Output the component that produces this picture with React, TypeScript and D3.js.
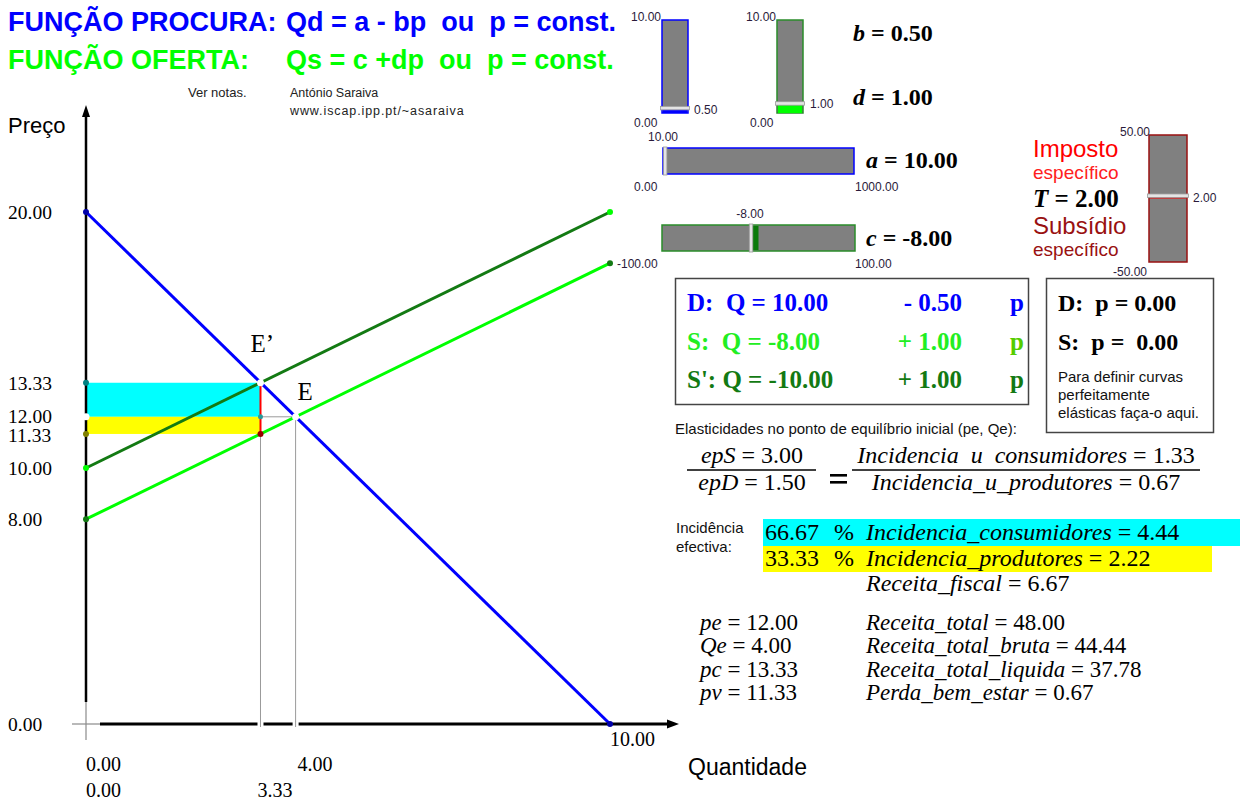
import React from "react";
import * as d3 from "d3";

// Demand / supply curves as (quantity, price) end points
const demandCurve = [{ q: 0, p: 20 }, { q: 10, p: 0 }];
const supplyCurve = [{ q: 0, p: 8 }, { q: 10, p: 18 }];
const taxedSupplyCurve = [{ q: 0, p: 10 }, { q: 10, p: 20 }];

// Axis labels
const priceTicks = [20, 13.33, 12, 11.33, 10, 8, 0];
const quantityRowInitial = [0, 4];
const quantityRowTaxed = [0, 3.33];
const quantityEnd = [10];

// Equilibria before and after the tax
const initialEquilibrium = { q: 4, p: 12 };
const taxedEquilibrium = { q: 3.33, pc: 13.33, pv: 11.33 };

// Slider parameters
const paramNames = ["b", "d", "a", "c", "T"];
const paramValues = [0.5, 1, 10, -8, 2];
const paramMin = [0, 0, 0, -100, -50];
const paramMax = [10, 10, 1000, 100, 50];

// Linear equations box
const eqLabels = ["D:  Q = ", "S:  Q = ", "S': Q = "];
const eqIntercepts = [10, -8, -10];
const eqSlopes = ["- 0.50", "+ 1.00", "+ 1.00"];

// Perfectly elastic curves
const elasticLabels = ["D:  p = ", "S:  p =  "];
const elasticValues = [0, 0];

// Elasticities and unit incidence
const epS = 3.0;
const epD = 1.5;
const unitIncidenceConsumers = 1.33;
const unitIncidenceProducers = 0.67;

// Effective incidence
const incidenceShares = [66.67, 33.33];
const incidenceNames = ["Incidencia_consumidores", "Incidencia_produtores"];
const incidenceValues = [4.44, 2.22];
const fiscalRevenue = 6.67;

// Summary values
const priceStatNames = ["pe", "Qe", "pc", "pv"];
const priceStatValues = [12, 4, 13.33, 11.33];
const revenueNames = ["Receita_total", "Receita_total_bruta", "Receita_total_liquida", "Perda_bem_estar"];
const revenueValues = [48, 44.44, 37.78, 0.67];

const SERIF = "'Liberation Serif', 'Times New Roman', serif";
const SANS = "'Liberation Sans', Arial, sans-serif";
const f2 = (v: number) => v.toFixed(2);

const BLUE = "#0000ff";
const GREEN = "#00ff00";
const DARK_GREEN = "#137a13";
const SLIDER_GREEN = "#2a8c2a";
const DARK_RED = "#991111";
const GREY = "#808080";

type Pt = { q: number; p: number };

function VSlider({ x, y, w, h, min, max, value, stroke, fill, thumbPad }: any) {
  const s = d3.scaleLinear().domain([min, max]).range([y + h, y]);
  const zero = s(Math.max(min, Math.min(max, 0)));
  const v = s(value);
  return (
    <g>
      <rect x={x} y={y} width={w} height={h} fill={GREY} stroke={stroke} strokeWidth={1.5} />
      <rect x={x + 1} y={Math.min(zero, v)} width={w - 2} height={Math.abs(zero - v)} fill={fill} />
      <rect x={x - thumbPad} y={v - 2} width={w + thumbPad * 2} height={3.5} fill="#e4e4e4" stroke="#9a9a9a" strokeWidth={0.8} />
    </g>
  );
}

function HSlider({ x, y, w, h, min, max, value, stroke, fill }: any) {
  const s = d3.scaleLinear().domain([min, max]).range([x, x + w]);
  const zero = s(Math.max(min, Math.min(max, 0)));
  const v = s(value);
  return (
    <g>
      <rect x={x} y={y} width={w} height={h} fill={GREY} stroke={stroke} strokeWidth={1.5} />
      <rect x={Math.min(zero, v)} y={y + 1} width={Math.abs(zero - v)} height={h - 2} fill={fill} />
      <rect x={v - 1.5} y={y - 1} width={3.5} height={h + 2} fill="#e4e4e4" stroke="#9a9a9a" strokeWidth={0.8} />
    </g>
  );
}

export default function App() {
  const x = d3.scaleLinear().domain([0, 10]).range([86, 610]);
  const y = d3.scaleLinear().domain([0, 20]).range([724, 212]);
  const line = d3.line<Pt>().x((d) => x(d.q)).y((d) => y(d.p));

  const xE = x(initialEquilibrium.q);
  const yE = y(initialEquilibrium.p);
  const xT = x(taxedEquilibrium.q);
  const yPc = y(taxedEquilibrium.pc);
  const yPv = y(taxedEquilibrium.pv);
  const axisY = y(0);
  const axisX = x(0);

  const pre = { whiteSpace: "pre" as const };
  const lblColor = "#2a1a3a";
  // small vertical nudges that keep the crowded 12.00 / 11.33 labels apart
  const tickNudge = (v: number) => (v === 12 ? -1 : v === 11.33 ? 1.5 : 0);

  return (
    <svg width={1240} height={800} style={{ position: "absolute", left: 0, top: 0, background: "#fff" }}>
      {/* Titles */}
      <text x={8} y={31} fontFamily={SANS} fontWeight="bold" fontSize={27} fill={BLUE}>FUNÇÃO PROCURA:</text>
      <text x={286} y={31} fontFamily={SANS} fontWeight="bold" fontSize={27} fill={BLUE} style={pre}>Qd = a - bp  ou  p = const.</text>
      <text x={8} y={69} fontFamily={SANS} fontWeight="bold" fontSize={27} fill={GREEN}>FUNÇÃO OFERTA:</text>
      <text x={286} y={69} fontFamily={SANS} fontWeight="bold" fontSize={27} fill={GREEN} style={pre}>Qs = c +dp  ou  p = const.</text>
      <text x={188} y={97} fontFamily={SANS} fontSize={13} fill="#222">Ver notas.</text>
      <text x={290} y={97} fontFamily={SANS} fontSize={12.5} fill="#222">António Saraiva</text>
      <text x={290} y={115} fontFamily={SANS} fontSize={12.5} letterSpacing={0.9} fill="#222">www.iscap.ipp.pt/~asaraiva</text>

      {/* Tax incidence areas */}
      <rect x={axisX} y={yPc} width={xT - axisX} height={yE - yPc} fill="#00ffff" />
      <rect x={axisX} y={yE} width={xT - axisX} height={yPv - yE} fill="#ffff00" />

      {/* Guide lines */}
      <line x1={xT} y1={yPc} x2={xT} y2={axisY + 2} stroke="#9a9a9a" strokeWidth={1} />
      <line x1={xE} y1={yE} x2={xE} y2={axisY + 2} stroke="#9a9a9a" strokeWidth={1} />
      <line x1={xT} y1={yE} x2={xE} y2={yE} stroke="#9a9a9a" strokeWidth={1} />

      {/* Curves */}
      <path d={line(supplyCurve) || ""} stroke={GREEN} strokeWidth={3} fill="none" />
      <path d={line(taxedSupplyCurve) || ""} stroke={DARK_GREEN} strokeWidth={3} fill="none" />
      <path d={line(demandCurve) || ""} stroke={BLUE} strokeWidth={3} fill="none" />

      {/* Axes */}
      <line x1={axisX} y1={axisY - 24} x2={axisX} y2={axisY + 16} stroke="#8a8a8a" strokeWidth={1.2} />
      <line x1={axisX - 14} y1={axisY} x2={axisX + 14} y2={axisY} stroke="#8a8a8a" strokeWidth={1.2} />
      <line x1={axisX} y1={114} x2={axisX} y2={axisY - 22} stroke="#000" strokeWidth={2.5} />
      <polygon points={`${axisX},105 ${axisX - 4},117 ${axisX + 4},117`} fill="#000" />
      <line x1={axisX + 14} y1={axisY} x2={670} y2={axisY} stroke="#000" strokeWidth={3} />
      <polygon points={`679,${axisY} 667,${axisY - 4.5} 667,${axisY + 4.5}`} fill="#000" />
      {[xT, xE].map((gx, i) => (
        <g key={i}>
          <rect x={gx - 3} y={axisY - 2.5} width={6} height={5} fill="#fff" />
          <line x1={gx} y1={axisY - 3} x2={gx} y2={axisY + 3} stroke="#9a9a9a" strokeWidth={1} />
        </g>
      ))}

      {/* Tax wedge */}
      <line x1={xT} y1={yPc} x2={xT} y2={yPv} stroke="#ff0000" strokeWidth={2} />

      {/* Points */}
      <circle cx={axisX} cy={y(demandCurve[0].p)} r={3} fill="#0000aa" />
      <circle cx={x(demandCurve[1].q)} cy={y(demandCurve[1].p)} r={3} fill="#0000aa" />
      <circle cx={axisX} cy={y(taxedSupplyCurve[0].p)} r={3} fill={GREEN} />
      <circle cx={x(taxedSupplyCurve[1].q)} cy={y(taxedSupplyCurve[1].p)} r={3} fill={GREEN} />
      <circle cx={axisX} cy={y(supplyCurve[0].p)} r={3} fill={DARK_GREEN} />
      <circle cx={x(supplyCurve[1].q)} cy={y(supplyCurve[1].p)} r={3} fill={DARK_GREEN} />
      <circle cx={axisX} cy={yPc} r={3} fill="#008080" />
      <circle cx={axisX} cy={yE} r={3.5} fill="#fff" />
      <circle cx={axisX} cy={yPv} r={3} fill="#808000" />
      <circle cx={xT} cy={yE} r={2.5} fill="#2a9a9a" />
      <circle cx={xT} cy={yPv} r={3} fill="#990000" />
      <circle cx={xT} cy={yPc} r={3.5} fill="#fff" />
      <circle cx={xE} cy={yE} r={3.5} fill="#fff" />

      <text x={xT - 10} y={yPc - 31} fontFamily={SERIF} fontSize={25} fill="#000">E’</text>
      <text x={xE + 2} y={yE - 17} fontFamily={SERIF} fontSize={25} fill="#000">E</text>

      {/* Axis labels */}
      <text x={8} y={133} fontFamily={SANS} fontSize={22} fill="#000">Preço</text>
      {priceTicks.map((v) => (
        <text key={v} x={8} y={y(v) + 7 + tickNudge(v)} fontFamily={SERIF} fontSize={19.5} fill="#000">{f2(v)}</text>
      ))}
      {quantityEnd.map((v) => (
        <text key={v} x={x(v)} y={746} fontFamily={SERIF} fontSize={20} fill="#000">{f2(v)}</text>
      ))}
      {quantityRowInitial.map((v) => (
        <text key={v} x={x(v) + (v ? 2 : 0)} y={771} fontFamily={SERIF} fontSize={20} fill="#000">{f2(v)}</text>
      ))}
      {quantityRowTaxed.map((v) => (
        <text key={v} x={x(v) - (v ? 3 : 0)} y={797} fontFamily={SERIF} fontSize={20} fill="#000">{f2(v)}</text>
      ))}
      <text x={688} y={775} fontFamily={SANS} fontSize={23} fill="#000">Quantidade</text>

      {/* Sliders b and d */}
      <VSlider x={662} y={20} w={26} h={93} min={paramMin[0]} max={paramMax[0]} value={paramValues[0]} stroke={BLUE} fill={BLUE} thumbPad={1.5} />
      <text x={661} y={21} textAnchor="end" fontFamily={SANS} fontSize={12} fill={lblColor}>{f2(paramMax[0])}</text>
      <text x={634} y={127} fontFamily={SANS} fontSize={12} fill={lblColor}>{f2(paramMin[0])}</text>
      <text x={694} y={114} fontFamily={SANS} fontSize={12} fill={lblColor}>{f2(paramValues[0])}</text>

      <VSlider x={777} y={20} w={26} h={93} min={paramMin[1]} max={paramMax[1]} value={paramValues[1]} stroke={SLIDER_GREEN} fill={GREEN} thumbPad={1.5} />
      <text x={776} y={21} textAnchor="end" fontFamily={SANS} fontSize={12} fill={lblColor}>{f2(paramMax[1])}</text>
      <text x={750} y={127} fontFamily={SANS} fontSize={12} fill={lblColor}>{f2(paramMin[1])}</text>
      <text x={810} y={108} fontFamily={SANS} fontSize={12} fill={lblColor}>{f2(paramValues[1])}</text>

      <text x={853} y={41} fontFamily={SERIF} fontWeight="bold" fontSize={24} fill="#000" style={pre}>
        <tspan fontStyle="italic">{paramNames[0]}</tspan> = {f2(paramValues[0])}
      </text>
      <text x={853} y={105} fontFamily={SERIF} fontWeight="bold" fontSize={24} fill="#000" style={pre}>
        <tspan fontStyle="italic">{paramNames[1]}</tspan> = {f2(paramValues[1])}
      </text>

      {/* Sliders a and c */}
      <HSlider x={663} y={148} w={191} h={26} min={paramMin[2]} max={paramMax[2]} value={paramValues[2]} stroke={BLUE} fill={BLUE} />
      <text x={648} y={141} fontFamily={SANS} fontSize={12} fill={lblColor}>{f2(paramValues[2])}</text>
      <text x={634} y={191} fontFamily={SANS} fontSize={12} fill={lblColor}>{f2(paramMin[2])}</text>
      <text x={855} y={191} fontFamily={SANS} fontSize={12} fill={lblColor}>{f2(paramMax[2])}</text>
      <text x={866} y={168} fontFamily={SERIF} fontWeight="bold" fontSize={24} fill="#000" style={pre}>
        <tspan fontStyle="italic">{paramNames[2]}</tspan> = {f2(paramValues[2])}
      </text>

      <HSlider x={662} y={225} w={193} h={26} min={paramMin[3]} max={paramMax[3]} value={paramValues[3]} stroke={SLIDER_GREEN} fill="#0a7a0a" />
      <text x={750} y={218} textAnchor="middle" fontFamily={SANS} fontSize={12} fill={lblColor}>{f2(paramValues[3])}</text>
      <text x={617} y={268} fontFamily={SANS} fontSize={12} fill={lblColor}>{f2(paramMin[3])}</text>
      <text x={855} y={268} fontFamily={SANS} fontSize={12} fill={lblColor}>{f2(paramMax[3])}</text>
      <text x={866} y={246} fontFamily={SERIF} fontWeight="bold" fontSize={24} fill="#000" style={pre}>
        <tspan fontStyle="italic">{paramNames[3]}</tspan> = {f2(paramValues[3])}
      </text>

      {/* Tax / subsidy slider */}
      <text x={1033} y={157} fontFamily={SANS} fontSize={24} fill="#ff0000">Imposto</text>
      <text x={1033} y={179} fontFamily={SANS} fontSize={19} fill="#ff2020">específico</text>
      <text x={1033} y={207} fontFamily={SERIF} fontWeight="bold" fontSize={25} fill="#000" style={pre}>
        <tspan fontStyle="italic">{paramNames[4]}</tspan> = {f2(paramValues[4])}
      </text>
      <text x={1033} y={234} fontFamily={SANS} fontSize={24} fill={DARK_RED}>Subsídio</text>
      <text x={1033} y={256} fontFamily={SANS} fontSize={19} fill={DARK_RED}>específico</text>
      <VSlider x={1149} y={135} w={38} h={127} min={paramMin[4]} max={paramMax[4]} value={paramValues[4]} stroke={DARK_RED} fill="#ff0000" thumbPad={1.5} />
      <text x={1150} y={136} textAnchor="end" fontFamily={SANS} fontSize={12} fill={lblColor}>{f2(paramMax[4])}</text>
      <text x={1147} y={276} textAnchor="end" fontFamily={SANS} fontSize={12} fill={lblColor}>{f2(paramMin[4])}</text>
      <text x={1193} y={202} fontFamily={SANS} fontSize={12} fill={lblColor}>{f2(paramValues[4])}</text>

      {/* Equations box */}
      <rect x={675.5} y={278.5} width={353} height={126} fill="#fff" stroke="#444" strokeWidth={1.5} />
      {eqLabels.map((lab, i) => {
        const col = [BLUE, "#22ee22", DARK_GREEN][i];
        const pCol = [BLUE, "#55cc00", DARK_GREEN][i];
        const by = 311 + i * 38.5;
        return (
          <g key={lab} fontFamily={SERIF} fontWeight="bold" fontSize={25}>
            <text x={687} y={by} fill={col} style={pre}>{lab + f2(eqIntercepts[i])}</text>
            <text x={962} y={by} textAnchor="end" fill={col} style={pre}>{eqSlopes[i]}</text>
            <text x={1010} y={by} fill={pCol}>p</text>
          </g>
        );
      })}

      {/* Perfectly elastic box */}
      <rect x={1046.5} y={278.5} width={167} height={154} fill="#fff" stroke="#444" strokeWidth={1.5} />
      {elasticLabels.map((lab, i) => (
        <text key={lab} x={1058} y={311 + i * 38.5} fontFamily={SERIF} fontWeight="bold" fontSize={24} fill="#000" style={pre}>
          {lab + f2(elasticValues[i])}
        </text>
      ))}
      {["Para definir curvas", "perfeitamente", "elásticas faça-o aqui."].map((t, i) => (
        <text key={t} x={1058} y={382 + i * 18} fontFamily={SANS} fontSize={15} fill="#111">{t}</text>
      ))}

      {/* Elasticities */}
      <text x={675} y={434} fontFamily={SANS} fontSize={15} fill="#111">Elasticidades no ponto de equilíbrio inicial (pe, Qe):</text>
      <g fontFamily={SERIF} fontSize={24} fill="#000">
        <text x={752} y={463} textAnchor="middle" style={pre}>
          <tspan fontStyle="italic">epS</tspan> = {f2(epS)}
        </text>
        <text x={752} y={490} textAnchor="middle" style={pre}>
          <tspan fontStyle="italic">epD</tspan> = {f2(epD)}
        </text>
        <line x1={687} y1={470} x2={816} y2={470} stroke="#000" strokeWidth={1.5} />
        <rect x={830} y={474} width={17} height={2.6} fill="#000" />
        <rect x={830} y={481} width={17} height={2.6} fill="#000" />
        <text x={1026} y={463} textAnchor="middle" style={pre}>
          <tspan fontStyle="italic">Incidencia  u  consumidores</tspan> = {f2(unitIncidenceConsumers)}
        </text>
        <text x={1026} y={490} textAnchor="middle" style={pre}>
          <tspan fontStyle="italic">Incidencia_u_produtores</tspan> = {f2(unitIncidenceProducers)}
        </text>
        <line x1={852} y1={470} x2={1200} y2={470} stroke="#000" strokeWidth={1.5} />
      </g>

      {/* Effective incidence */}
      <text x={676} y={533} fontFamily={SANS} fontSize={15} fill="#111">Incidência</text>
      <text x={676} y={552} fontFamily={SANS} fontSize={15} fill="#111">efectiva:</text>
      <rect x={763} y={519} width={477} height={27} fill="#00ffff" />
      <rect x={763} y={546} width={449} height={26} fill="#ffff00" />
      {incidenceShares.map((s, i) => (
        <g key={i} fontFamily={SERIF} fontSize={24} fill="#000">
          <text x={765} y={540 + i * 26}>{f2(s)}</text>
          <text x={834} y={540 + i * 26}>%</text>
          <text x={866} y={540 + i * 26} style={pre}>
            <tspan fontStyle="italic">{incidenceNames[i]}</tspan> = {f2(incidenceValues[i])}
          </text>
        </g>
      ))}
      <text x={866} y={591} fontFamily={SERIF} fontSize={24} fill="#000" style={pre}>
        <tspan fontStyle="italic">Receita_fiscal</tspan> = {f2(fiscalRevenue)}
      </text>

      {/* Summary */}
      {priceStatNames.map((n, i) => (
        <text key={n} x={700} y={630 + i * 23.3} fontFamily={SERIF} fontSize={23} fill="#000" style={pre}>
          <tspan fontStyle="italic">{n}</tspan> = {f2(priceStatValues[i])}
        </text>
      ))}
      {revenueNames.map((n, i) => (
        <text key={n} x={866} y={630 + i * 23.3} fontFamily={SERIF} fontSize={23} fill="#000" style={pre}>
          <tspan fontStyle="italic">{n}</tspan> = {f2(revenueValues[i])}
        </text>
      ))}
    </svg>
  );
}
